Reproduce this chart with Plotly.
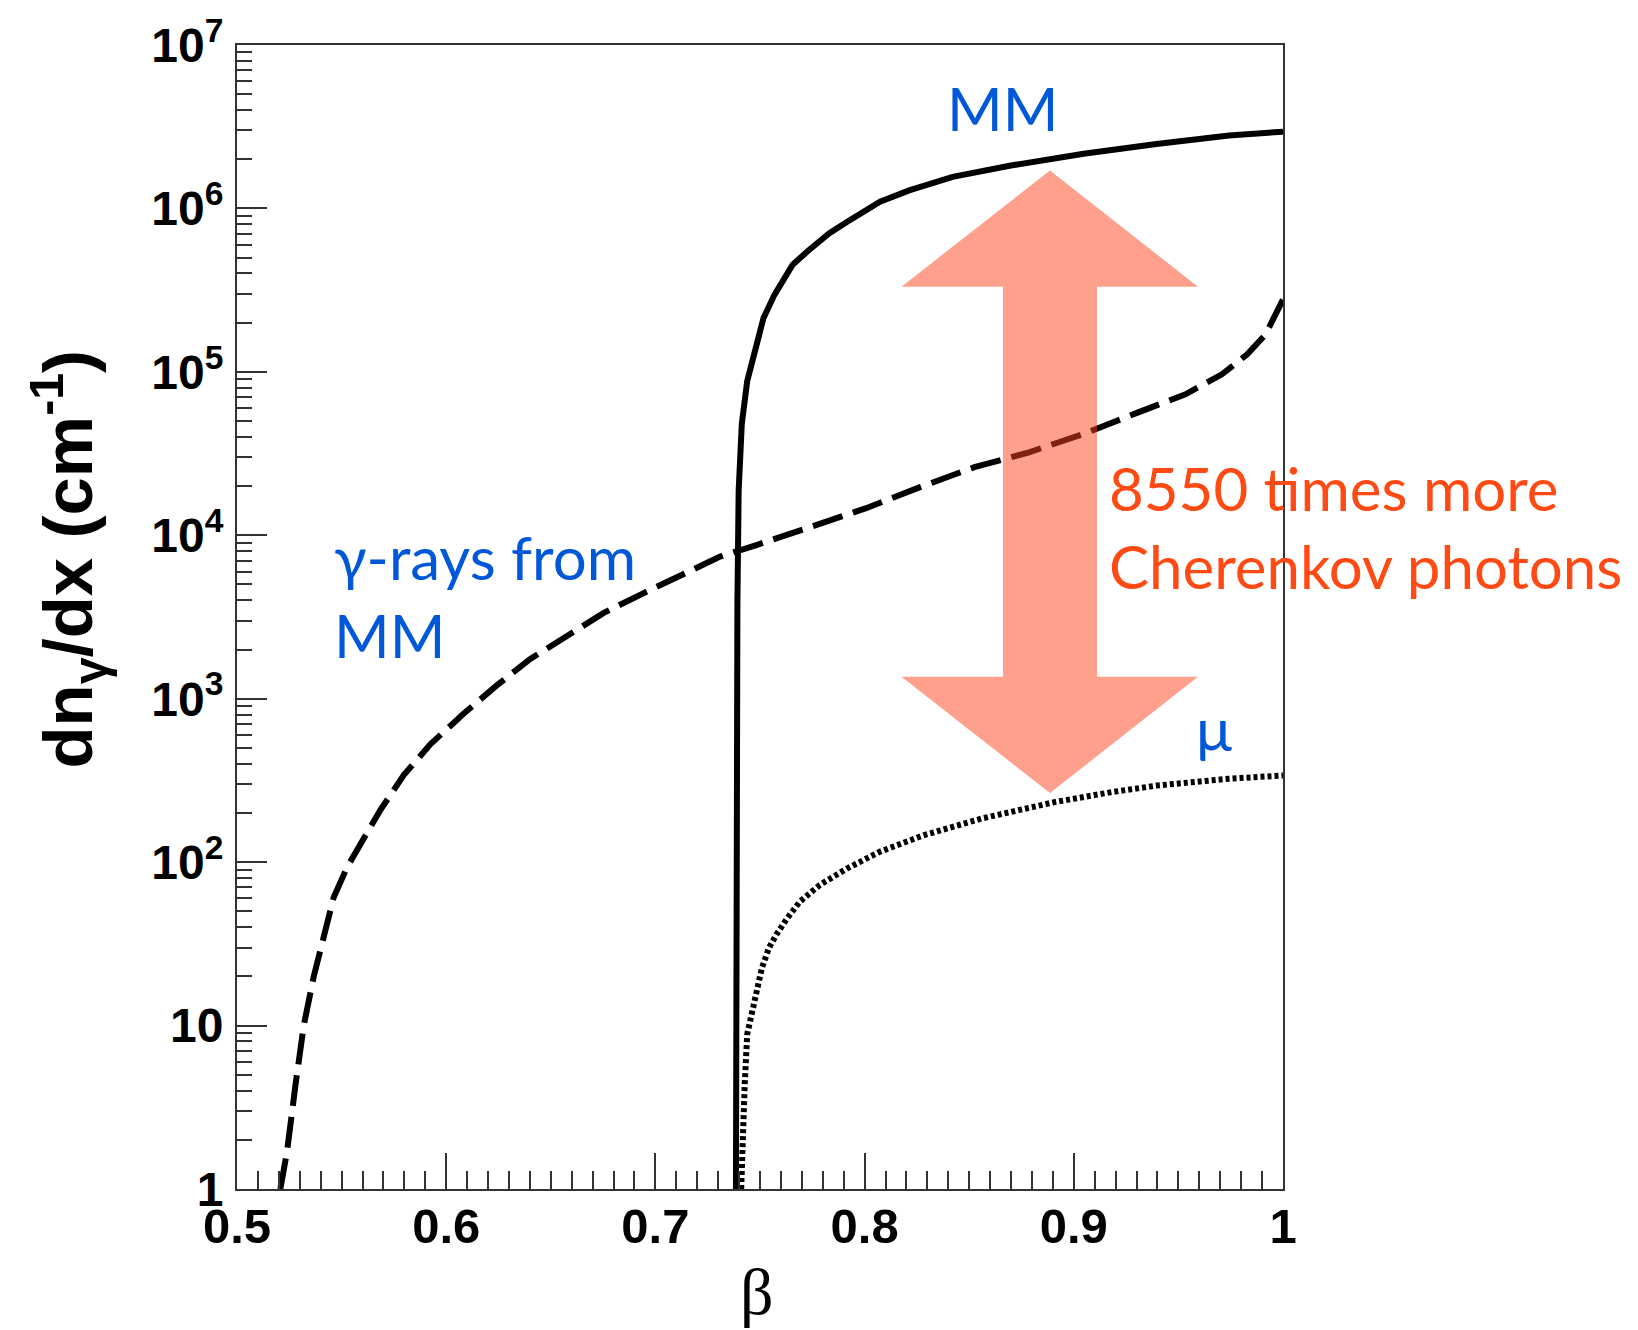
import plotly.graph_objects as go

# ---- data ----
mm_beta = [0.7385, 0.7387, 0.7389, 0.7392, 0.7398, 0.7413, 0.7439, 0.7474, 0.7517, 0.7569,
           0.7656, 0.7726, 0.7830, 0.7917, 0.8074, 0.8213, 0.8421, 0.8699, 0.9047, 0.9395,
           0.9742, 1.0]
mm_vals = [1, 32, 1000, 3850, 18800, 48000, 88000, 134000, 214000, 296000,
           452000, 545000, 703000, 828000, 1.10e6, 1.29e6, 1.56e6, 1.83e6, 2.16e6, 2.48e6,
           2.79e6, 2.95e6]

gamma_beta = [0.5207, 0.5239, 0.5279, 0.5319, 0.5367, 0.5406, 0.5462, 0.5526, 0.5589, 0.5685,
              0.5797, 0.5924, 0.6084, 0.6243, 0.6402, 0.6593, 0.6753, 0.6944, 0.7151, 0.7309,
              0.7483, 0.7743, 0.8004, 0.8265, 0.8525, 0.8786, 0.9047, 0.9308, 0.9534, 0.9708,
              0.9829, 0.9916, 0.9960, 1.0]
gamma_vals = [1, 1.69, 4.27, 10, 20, 32.7, 60.7, 93, 127, 208,
              341, 526, 811, 1210, 1750, 2460, 3350, 4430, 5850, 7400,
              8710, 11300, 14600, 19700, 26100, 32200, 41700, 56500, 72900, 96600,
              128000, 169000, 224000, 277000]

mu_beta = [0.7410, 0.7416, 0.7427, 0.7439, 0.7474, 0.7509, 0.7543, 0.7578, 0.7630, 0.7691,
           0.7786, 0.7917, 0.8074, 0.8282, 0.8560, 0.8908, 0.9186, 0.9395, 0.9742, 1.0]
mu_vals = [1, 2.18, 4.40, 8.87, 14.1, 22.5, 29.9, 36.0, 45.4, 57.4,
           72.6, 91.6, 116, 146, 185, 233, 269, 294, 324, 339]

x_labelvals = [0.5, 0.6, 0.7, 0.8, 0.9, 1.0]
x_labeltext = ["0.5", "0.6", "0.7", "0.8", "0.9", "1"]
y_tickvals = [1, 10, 1e2, 1e3, 1e4, 1e5, 1e6, 1e7]
y_ticktext = ["1", "10", "10<sup>2</sup>", "10<sup>3</sup>", "10<sup>4</sup>",
              "10<sup>5</sup>", "10<sup>6</sup>", "10<sup>7</sup>"]
y_minor = [m * 10 ** k for k in range(7) for m in range(2, 10)]

BLUE = "#0057D8"
RED = "#FF4A14"
AX = "#333333"

fig = go.Figure()
fig.add_trace(go.Scatter(x=mm_beta, y=mm_vals, mode="lines",
                         line=dict(color="black", width=6), showlegend=False))
fig.add_trace(go.Scatter(x=mu_beta, y=mu_vals, mode="lines",
                         line=dict(color="black", width=6, dash="4px,3px"), showlegend=False))
fig.add_trace(go.Scatter(x=gamma_beta, y=gamma_vals, mode="lines",
                         line=dict(color="black", width=6, dash="31px,11px"), showlegend=False))

fig.update_layout(
    width=1638, height=1330,
    margin=dict(l=237, r=355, t=39, b=141),
    paper_bgcolor="white", plot_bgcolor="white",
    xaxis=dict(range=[0.5, 1.0], tickmode="array", tickvals=x_labelvals, ticktext=x_labeltext,
               ticks="inside", ticklen=36, tickwidth=2, tickcolor=AX,
               showline=True, linewidth=2, linecolor=AX, mirror=True,
               showgrid=False, zeroline=False,
               tickfont=dict(family="Liberation Sans", size=49, color="black", weight="bold"),
               ticklabelstandoff=-7,
               minor=dict(tickmode="linear", tick0=0.5, dtick=0.01, ticks="inside",
                          ticklen=18, tickwidth=2, tickcolor=AX, showgrid=False)),
    xaxis2=dict(range=[0.5, 1.0], overlaying="x", anchor="y", side="bottom",
                tickmode="linear", tick0=0.55, dtick=0.1, ticks="inside", ticklen=36,
                tickwidth=2, tickcolor=AX, showticklabels=False, showgrid=False,
                zeroline=False, showline=False),
    yaxis=dict(type="log", range=[0, 7], tickmode="array", tickvals=y_tickvals, ticktext=y_ticktext,
               ticks="inside", ticklen=30, tickwidth=2, tickcolor=AX,
               showline=True, linewidth=2, linecolor=AX, mirror=True,
               showgrid=False, zeroline=False,
               tickfont=dict(family="Liberation Sans", size=48, color="black", weight="bold"),
               ticklabelstandoff=2,
               minor=dict(tickmode="array", tickvals=y_minor, ticks="inside",
                          ticklen=15, tickwidth=2, tickcolor=AX, showgrid=False)),
)

# double-headed arrow
fig.add_shape(type="path", xref="paper", yref="paper", layer="above",
              path=("M 0.7772,0.8904 L 0.9187,0.7887 L 0.8222,0.7887 L 0.8222,0.4478 "
                    "L 0.9187,0.4478 L 0.7772,0.3461 L 0.6353,0.4478 L 0.7323,0.4478 "
                    "L 0.7323,0.7887 L 0.6353,0.7887 Z"),
              fillcolor="rgba(255,66,25,0.5)", line=dict(width=0))

tf = dict(family="Lato", size=60)
fig.add_annotation(x=0.7323, y=0.945, xref="paper", yref="paper", text="MM", showarrow=False,
                   xanchor="center", yanchor="middle", font=dict(tf, color=BLUE))
fig.add_annotation(x=0.0910, y=0.518, xref="paper", yref="paper", text="γ-rays from<br>MM",
                   showarrow=False, xanchor="left", yanchor="middle", align="left",
                   font=dict(tf, color=BLUE))
fig.add_annotation(x=0.934, y=0.403, xref="paper", yref="paper", text="μ", showarrow=False,
                   xanchor="center", yanchor="middle", font=dict(tf, color=BLUE))
fig.add_annotation(x=0.8320, y=0.5783, xref="paper", yref="paper",
                   text="8550 times more<br>Cherenkov photons", showarrow=False,
                   xanchor="left", yanchor="middle", align="left", font=dict(tf, color=RED))

# axis titles
fig.add_annotation(x=-0.1616, y=0.551, xref="paper", yref="paper",
                   text="dn<sub>γ</sub>/dx (cm<sup>-1</sup>)", showarrow=False, textangle=-90,
                   xanchor="center", yanchor="middle",
                   font=dict(family="Liberation Sans", size=69, color="black", weight="bold"))
fig.add_annotation(x=0.497, y=-0.0896, xref="paper", yref="paper", text="β", showarrow=False,
                   xanchor="center", yanchor="middle",
                   font=dict(family="Liberation Serif", size=66, color="black"))

fig.write_html("out.html")
